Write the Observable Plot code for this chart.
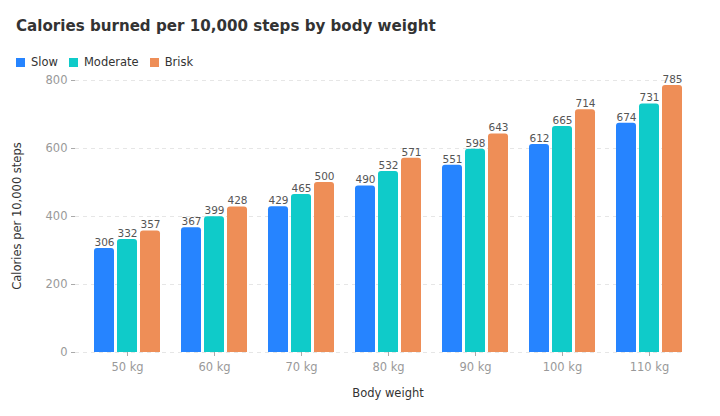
<!DOCTYPE html>
<html><head><meta charset="utf-8">
<script src="https://cdn.jsdelivr.net/npm/d3@7"></script>
<script src="https://cdn.jsdelivr.net/npm/@observablehq/plot@0.6"></script>
<style>
body{margin:0;background:#fff;font-family:"DejaVu Sans",sans-serif;}
#title{position:absolute;left:16px;top:17px;font-size:15.1px;font-weight:bold;color:#333;white-space:nowrap;}
#legend{position:absolute;left:16px;top:55px;font-size:11.5px;color:#333;display:flex;}
#legend span.item{display:flex;align-items:center;margin-right:11px;}
#legend span.sw{width:9px;height:9px;display:inline-block;margin-right:6px;}
#chart{position:absolute;left:0;top:72px;}
#ytitle{position:absolute;left:17px;top:216px;transform:translate(-50%,-50%) rotate(-90deg);font-size:11.5px;color:#333;white-space:nowrap;}
#xtitle{position:absolute;left:388px;top:393px;transform:translate(-50%,-50%);font-size:11.5px;color:#333;white-space:nowrap;}
</style></head>
<body>
<div id="title">Calories burned per 10,000 steps by body weight</div>
<div id="legend"></div>
<div id="chart"></div>
<div id="ytitle">Calories per 10,000 steps</div>
<div id="xtitle">Body weight</div>
<script>
const weights = ["50 kg","60 kg","70 kg","80 kg","90 kg","100 kg","110 kg"];
const paces = ["Slow","Moderate","Brisk"];
const slow = [306,367,429,490,551,612,674];
const moderate = [332,399,465,532,598,665,731];
const brisk = [357,428,500,571,643,714,785];
const colors = ["#2684FF","#0FCBC9","#EE8E57"];
const yTicks = [0,200,400,600,800];

const series = [slow, moderate, brisk];
const data = [];
weights.forEach((w,i)=>paces.forEach((p,j)=>data.push({weight:w,pace:p,value:series[j][i]})));

const leg = document.getElementById("legend");
paces.forEach((p,j)=>{
  const s=document.createElement("span");s.className="item";
  s.innerHTML=`<span class="sw" style="background:${colors[j]}"></span>${p}`;
  leg.appendChild(s);
});

const chart = Plot.plot({
  width:720, height:344,
  marginLeft:72, marginRight:16, marginTop:8, marginBottom:64,
  style:{fontFamily:"DejaVu Sans, sans-serif", fontSize:"11px", background:"#fff"},
  fx:{domain:weights, paddingInner:0.22, paddingOuter:0.21, label:null},
  x:{domain:paces, paddingInner:0.13, paddingOuter:0.02, axis:null},
  y:{domain:[0,800], axis:null},
  color:{domain:paces, range:colors},
  marks:[
    Plot.ruleY(yTicks,{stroke:"#e6e6e6", strokeDasharray:"4,4", insetLeft:-18, insetRight:-2}),
    Plot.barY(data,{fx:"weight", x:"pace", y:"value", fill:"pace", rx:3, insetBottom:-4, clip:"frame"}),
    Plot.text(data,{fx:"weight", x:"pace", y:"value", text:d=>String(d.value), dy:-6, fill:"#555", fontSize:10.5}),
    Plot.axisY(yTicks,{anchor:"left", tickSize:4, tickPadding:4, dx:-18, stroke:"#aaa", color:"#999", fontSize:11.5, label:null}),
    Plot.axisFx({anchor:"bottom", tickSize:4, tickPadding:6, stroke:"#aaa", color:"#999", fontSize:11.5, label:null})
  ]
});
document.getElementById("chart").appendChild(chart);
</script>
</body></html>
